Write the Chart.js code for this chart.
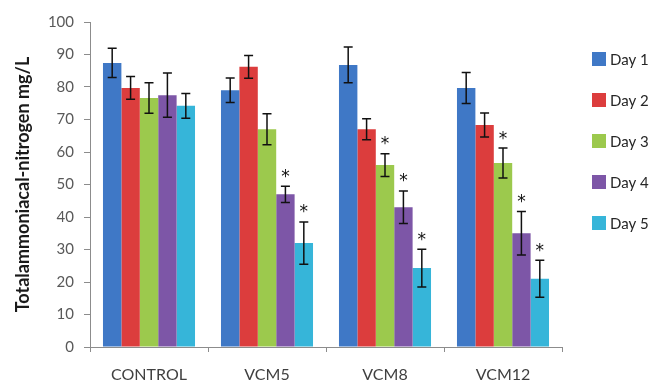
<!DOCTYPE html>
<html lang="en">
<head>
    <meta charset="UTF-8">
    <title>Total ammoniacal-nitrogen</title>
    <script src="https://cdn.jsdelivr.net/npm/chart.js@4.4.1/dist/chart.umd.min.js"></script>
    <style>
        html, body {
            margin: 0;
            padding: 0;
            background: #fff;
        }
        .chart-box {
            position: relative;
            width: 656px;
            height: 383px;
        }
    </style>
</head>
<body>
    <div class="chart-box">
        <canvas id="ammoniaChart"></canvas>
    </div>

    <script>
        // Data
        const groups = ['CONTROL', 'VCM5', 'VCM8', 'VCM12'];
        const dayLabels = ['Day 1', 'Day 2', 'Day 3', 'Day 4', 'Day 5'];

        const day1 = [87.4, 79.0, 86.8, 79.7];
        const day2 = [79.7, 86.2, 67.0, 68.3];
        const day3 = [76.6, 67.0, 56.0, 56.6];
        const day4 = [77.5, 47.0, 43.0, 35.0];
        const day5 = [74.2, 32.0, 24.3, 21.0];

        // +/- error
        const err1 = [4.5, 3.8, 5.5, 4.8];
        const err2 = [3.5, 3.5, 3.2, 3.7];
        const err3 = [4.7, 4.8, 3.5, 4.6];
        const err4 = [6.8, 2.5, 5.0, 6.7];
        const err5 = [3.8, 6.5, 5.8, 5.7];

        // asterisk marks (1 = significant)
        const sig1 = [0, 0, 0, 0];
        const sig2 = [0, 0, 0, 0];
        const sig3 = [0, 0, 1, 1];
        const sig4 = [0, 1, 1, 1];
        const sig5 = [0, 1, 1, 1];

        const yTicks = [0, 10, 20, 30, 40, 50, 60, 70, 80, 90, 100];

        const colors = ['#3f78c6', '#dc3d3d', '#9cc94d', '#7d56a7', '#36b5d9'];

        const values = [day1, day2, day3, day4, day5];
        const errors = [err1, err2, err3, err4, err5];
        const stars = [sig1, sig2, sig3, sig4, sig5];

        const fontFamily = 'Lato, "Open Sans", sans-serif';
        const axisGray = '#8c8c8c';

        // error bars + asterisks
        const errorBarPlugin = {
            id: 'errorBars',
            afterDatasetsDraw(chart) {
                const ctx = chart.ctx;
                const yScale = chart.scales.y;
                ctx.save();
                ctx.strokeStyle = '#111';
                ctx.lineWidth = 1.5;
                ctx.fillStyle = '#111';
                ctx.font = '17px "DejaVu Sans", sans-serif';
                ctx.textAlign = 'center';
                ctx.textBaseline = 'middle';
                chart.data.datasets.forEach((ds, di) => {
                    const meta = chart.getDatasetMeta(di);
                    meta.data.forEach((bar, i) => {
                        const v = values[di][i];
                        const e = errors[di][i];
                        const yTop = yScale.getPixelForValue(v + e);
                        const yBot = yScale.getPixelForValue(v - e);
                        const x = bar.x;
                        ctx.beginPath();
                        ctx.moveTo(x, yTop);
                        ctx.lineTo(x, yBot);
                        ctx.moveTo(x - 4.5, yTop);
                        ctx.lineTo(x + 4.5, yTop);
                        ctx.moveTo(x - 4.5, yBot);
                        ctx.lineTo(x + 4.5, yBot);
                        ctx.stroke();
                        if (stars[di][i]) {
                            ctx.fillText('*', x, yTop - 9);
                        }
                    });
                });
                ctx.restore();
            }
        };

        // legend on the right
        const sideLegendPlugin = {
            id: 'sideLegend',
            afterDraw(chart) {
                const ctx = chart.ctx;
                ctx.save();
                ctx.font = '15px ' + fontFamily;
                ctx.textBaseline = 'middle';
                ctx.textAlign = 'left';
                chart.data.datasets.forEach((ds, i) => {
                    const cy = 59 + i * 41;
                    ctx.fillStyle = ds.backgroundColor;
                    ctx.fillRect(592, cy - 7, 14, 14);
                    ctx.fillStyle = '#262626';
                    ctx.fillText(ds.label, 610, cy + 1);
                });
                ctx.restore();
            }
        };

        const ctx = document.getElementById('ammoniaChart').getContext('2d');
        new Chart(ctx, {
            type: 'bar',
            data: {
                labels: groups,
                datasets: dayLabels.map((label, i) => ({
                    label: label,
                    data: values[i],
                    backgroundColor: colors[i],
                    borderWidth: 0,
                    categoryPercentage: 0.78,
                    barPercentage: 1.0
                }))
            },
            options: {
                responsive: true,
                maintainAspectRatio: false,
                animation: false,
                layout: {
                    padding: { top: 22, right: 94, left: 0, bottom: 0 }
                },
                plugins: {
                    legend: { display: false },
                    tooltip: { enabled: false }
                },
                scales: {
                    x: {
                        grid: {
                            display: true,
                            drawOnChartArea: false,
                            offset: true,
                            tickLength: 5,
                            color: axisGray
                        },
                        border: { display: true, color: axisGray, width: 1 },
                        ticks: {
                            color: '#404040',
                            padding: 13,
                            font: { family: fontFamily, size: 16 }
                        },
                        afterFit(scale) {
                            scale.height = 36;
                        }
                    },
                    y: {
                        min: 0,
                        max: 100,
                        afterBuildTicks(scale) {
                            scale.ticks = yTicks.map(v => ({ value: v }));
                        },
                        grid: {
                            display: true,
                            drawOnChartArea: false,
                            tickLength: 6,
                            color: axisGray
                        },
                        border: { display: true, color: axisGray, width: 1 },
                        ticks: {
                            color: '#595959',
                            padding: 10,
                            font: { family: fontFamily, size: 15 }
                        },
                        title: {
                            display: true,
                            text: 'Totalammoniacal-nitrogen mg/L',
                            color: '#1a1a1a',
                            padding: { top: 12, bottom: 0 },
                            font: { family: fontFamily, size: 18, weight: 'bold' }
                        },
                        afterFit(scale) {
                            scale.width = 90;
                        }
                    }
                }
            },
            plugins: [errorBarPlugin, sideLegendPlugin]
        });
    </script>
</body>
</html>
